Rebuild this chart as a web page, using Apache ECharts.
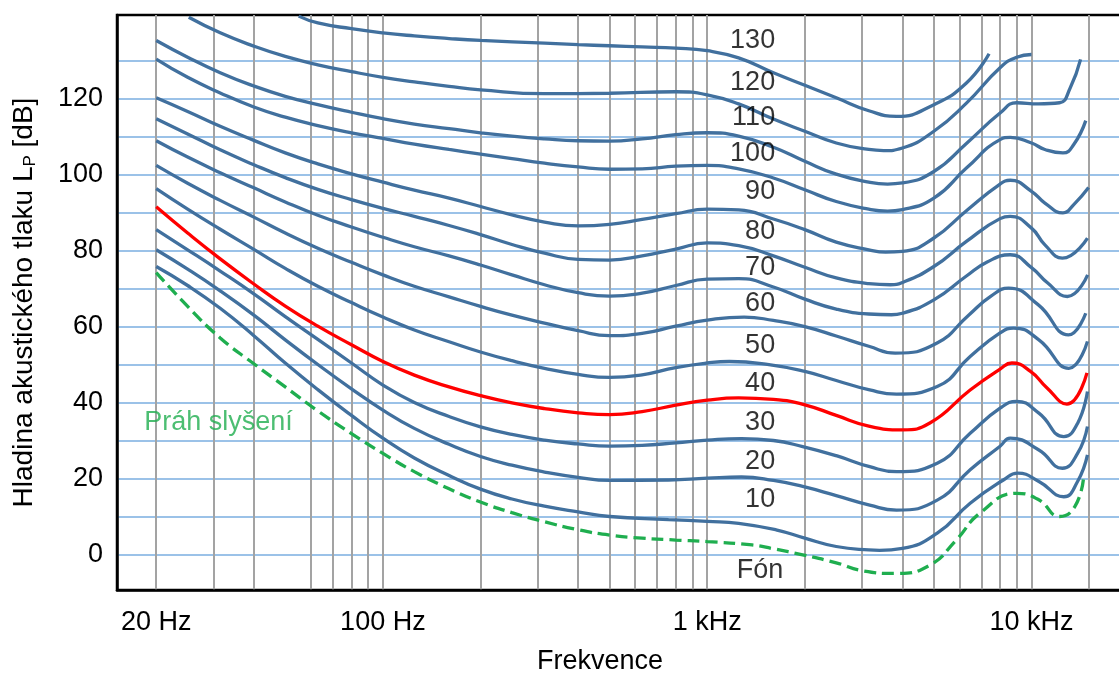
<!DOCTYPE html>
<html>
<head>
<meta charset="utf-8">
<script src="https://cdn.jsdelivr.net/npm/echarts@6/dist/echarts.min.js"></script>
<style>
  html, body { margin: 0; padding: 0; background: #fff; }
  #chart { width: 1119px; height: 673px; }
</style>
</head>
<body>
<div id="chart"></div>
<script>
// frequency axis is logarithmic: values are in Hz, plotted as log10(f)
const freqMin = 15.14;
const freqMax = 19150;
const gridFreqs = [20, 30, 40, 60, 70, 80, 90, 100, 200, 300, 400, 500, 600, 700, 800, 900,
  1000, 2000, 3000, 4000, 5000, 6000, 7000, 8000, 9000, 10000, 15000];
const tickFreqs = [20, 100, 1000, 10000];
const tickNames = ["20 Hz", "100 Hz", "1 kHz", "10 kHz"];
const dbLines = [0, 10, 20, 30, 40, 50, 60, 70, 80, 90, 100, 110, 120, 130];
const dbLabels = [0, 20, 40, 60, 80, 100, 120];

// equal loudness contours, [Hz, dB]
const phon130 = [[55, 141.7], [63, 139.9], [80, 138.4], [100, 137.3], [125, 136.5], [160, 135.8], [200, 135.3],
  [315, 134.6], [400, 134.2], [500, 133.9], [630, 133.6], [800, 133.3], [1000, 132.6], [1250, 130.7],
  [1600, 126.8], [2000, 123.5], [2500, 120.2], [3150, 116.8], [3830, 115.3], [5000, 118.4], [6300, 124.1], [7400, 131.8]];
const phon120 = [[25.2, 141.4], [31.5, 137.3], [40, 133.8], [50, 131.1], [63, 128.9], [80, 127.1], [100, 125.6],
  [125, 124.4], [160, 123.2], [200, 122.3], [315, 121.3], [500, 121.4], [800, 121.8],
  [1000, 121], [1250, 118.6], [1600, 114.6], [2000, 111.4], [2500, 108.3], [3150, 106.6], [3500, 106.3],
  [4000, 107], [5000, 111.4], [6300, 118.8], [8000, 128.1], [9000, 130.9], [10000, 131.6]];
const phon110 = [[20, 135.3], [25, 130.9], [31.5, 126.8], [40, 123.3], [50, 120.6], [63, 118.4], [80, 116.4],
  [100, 114.7], [125, 113.3], [160, 112.1], [200, 111], [250, 110.1], [315, 109.4], [400, 108.9], [500, 108.8],
  [630, 109.4], [800, 110.5], [1000, 111], [1250, 110.1], [1600, 107.2], [2000, 103.5], [2500, 100.1],
  [3150, 98], [3600, 97.5], [4000, 97.8], [5000, 100.8], [6300, 108.2], [8000, 116.2], [9000, 118.9],
  [10500, 118.6], [12200, 118.9], [13160, 122.8], [14170, 130.3]];
const phon100 = [[20, 130.4], [25, 125.6], [31.5, 121.5], [40, 117.8], [50, 115.1], [63, 112.9], [80, 111],
  [100, 109.5], [125, 108], [160, 106.6], [200, 105.4], [250, 104.2], [315, 103], [400, 102], [500, 101.4],
  [630, 101.5], [800, 102.2], [1000, 102.4], [1250, 101.5], [1600, 99.1], [2000, 96], [2500, 92.9],
  [3150, 90.9], [3600, 90.4], [4000, 90.8], [5000, 93.8], [6300, 101.7], [8000, 109.2], [8600, 109.8],
  [10000, 108.3], [11000, 106.6], [12500, 105.7], [13500, 107.9], [14700, 114.2]];
const phon90 = [[20, 120.2], [25, 116.6], [31.5, 112.7], [40, 109], [50, 105.7], [63, 102.8], [80, 100.2],
  [100, 98], [125, 95.9], [160, 93.8], [200, 91.6], [250, 89.4], [315, 87.5], [400, 86.5], [500, 86.9],
  [630, 88.2], [800, 89.7], [1000, 90.9], [1250, 90.7], [1600, 88.3], [2000, 85.5], [2500, 82.2],
  [3150, 80.2], [3550, 79.6], [4000, 79.8], [5000, 83.3], [6300, 90.5], [8000, 97.5], [8600, 98.5],
  [10000, 95.6], [11000, 92.5], [12500, 89.9], [13500, 92.1], [15000, 96.6]];
const phon80 = [[20, 114.7], [25, 110.7], [31.5, 106.5], [40, 102.6], [50, 99.2], [63, 96.1], [80, 93.4],
  [100, 91.1], [125, 89], [160, 86.6], [200, 84.2], [250, 81.6], [315, 79.3], [400, 77.7], [500, 77.5],
  [630, 78.6], [800, 80.4], [1000, 82], [1250, 81.3], [1600, 78.6], [2000, 75.6], [2500, 72.8],
  [3150, 71.3], [3670, 71], [4000, 71.6], [5000, 75.8], [6300, 82.4], [8000, 88.4], [8600, 89],
  [10000, 85.9], [11000, 81.5], [12450, 78], [14880, 83.3]];
const phon70 = [[20, 108.9], [25, 104.6], [31.5, 100.5], [40, 96.5], [50, 92.8], [63, 89.3], [80, 86.2],
  [100, 83.5], [125, 81], [160, 78.6], [200, 76.2], [250, 73.6], [315, 71], [400, 68.9], [500, 68],
  [630, 68.8], [800, 70.8], [1000, 72.5], [1250, 72.6], [1600, 70.4], [2000, 67.2], [2500, 64.6],
  [3150, 63.3], [3700, 63.1], [4000, 63.5], [5000, 67], [6300, 73.3], [7300, 77], [8600, 78.9],
  [10000, 75.5], [11200, 71.5], [12900, 67.9], [14900, 73.6]];
const phon60 = [[20, 102.4], [25, 97.7], [31.5, 93.2], [40, 88.8], [50, 84.6], [63, 80.6], [80, 76.9],
  [100, 73.6], [125, 70.6], [160, 67.8], [200, 65.3], [250, 63], [315, 60.9], [400, 58.9], [500, 57.6],
  [630, 58.2], [800, 60.1], [1000, 61.7], [1300, 62.5], [1600, 61.6], [2000, 60], [2500, 57.5],
  [3150, 54.8], [3800, 53], [5100, 55.6], [6400, 63], [7500, 68], [8500, 70.1], [10500, 65.7],
  [13000, 57.8], [14700, 63.5]];
const phon50 = [[20, 96.3], [25, 90.9], [31.5, 85.6], [40, 80.3], [50, 75.3], [63, 70.6], [80, 66.3],
  [100, 62.5], [125, 59.1], [160, 56], [200, 53.3], [250, 51], [315, 49], [400, 47.4], [500, 46.6],
  [630, 47.3], [800, 49.2], [1000, 50.4], [1170, 50.8], [1550, 50], [2000, 48.2], [2500, 45.8],
  [3170, 43.3], [3835, 42.2], [5120, 44.2], [6470, 52.1], [8000, 58.3], [8810, 59.6], [10540, 56.5],
  [13040, 49], [14880, 56.1]];
const phon40 = [[20, 91.5], [25, 84.6], [31.5, 77.8], [40, 71.2], [50, 65.4], [63, 60.1], [80, 55.2],
  [100, 50.8], [125, 47.2], [160, 44.1], [200, 41.8], [250, 39.9], [315, 38.4], [400, 37.3], [500, 36.8],
  [630, 37.6], [800, 39.3], [1000, 40.6], [1250, 41.2], [1600, 40.8], [2000, 39.4], [2500, 36.6],
  [3150, 33.8], [4000, 32.8], [4860, 34.6], [6470, 43.3], [8000, 48.8], [8700, 50.4], [9930, 48.2],
  [11150, 43.9], [12860, 39.6], [14830, 47.8]];
const phon30 = [[20, 85.5], [25, 80.2], [31.5, 74.6], [40, 68.6], [50, 62.6], [63, 56.6], [80, 50.4],
  [100, 44.6], [125, 40], [160, 36.3], [200, 33.6], [250, 31.6], [315, 30.1], [400, 29.1], [500, 28.5],
  [630, 28.7], [800, 29.4], [1000, 30.1], [1275, 30.5], [1600, 30], [1970, 28.4], [2500, 26],
  [3170, 23.1], [3835, 21.8], [5120, 24], [6470, 31.9], [8000, 38.5], [9000, 40.3], [10540, 37.2],
  [12580, 31], [13870, 34.5], [14880, 42.9]];
const phon20 = [[20, 80.2], [25, 75.1], [31.5, 69.4], [40, 63], [50, 56.5], [63, 50], [80, 43.6],
  [100, 38], [125, 33.2], [160, 29], [200, 25.8], [250, 23.5], [315, 21.7], [400, 20.3], [500, 19.5],
  [760, 19.6], [1000, 20.1], [1275, 20.4], [1600, 19.5], [1970, 17.9], [2500, 15.5], [3170, 13],
  [3835, 11.7], [5120, 14.3], [6470, 22.3], [8000, 28.5], [8600, 30.6], [10540, 27.5], [12450, 22.7],
  [13870, 26.6], [14880, 33.7]];
const phon10 = [[20, 75.8], [25, 70.8], [31.5, 64.8], [40, 57.6], [50, 50.4], [63, 43.4], [80, 36.6],
  [100, 30.6], [125, 25.4], [160, 20.8], [200, 17.2], [250, 14.6], [315, 12.7], [400, 11.2], [500, 10],
  [760, 9.2], [1000, 8.7], [1250, 8.2], [1630, 6.5], [2000, 4.3], [2500, 2.1], [3150, 1.2], [3400, 1.1],
  [4000, 1.6], [5120, 5.6], [6470, 13.5], [8190, 19.6], [9070, 21.4], [10540, 19.2], [12580, 15.2],
  [13870, 19.2], [14880, 26.2]];
const threshold = [[20, 74.2], [25, 65.3], [31.5, 57], [40, 50.2], [50, 44.1], [63, 37.8], [80, 31.8],
  [100, 26.6], [125, 21.8], [160, 17.3], [200, 13.8], [250, 11], [315, 8.6], [400, 6.5], [500, 5.1],
  [630, 4.3], [800, 3.8], [1000, 3.4], [1375, 2.5], [1600, 1.5], [1970, -0.1], [2500, -2.2], [3020, -4.3],
  [3830, -5], [4860, -2.8], [5860, 3.8], [6940, 10.9], [9010, 16.1], [10530, 14.4], [12200, 10],
  [13600, 12.6], [14470, 20.1]];

const blueCurves = [phon130, phon120, phon110, phon100, phon90, phon80, phon70, phon60, phon50, phon30, phon20, phon10];

// contour captions, right-aligned near 1.6 kHz
const captionText = ["130", "120", "110", "100", "90", "80", "70", "60", "50", "40", "30", "20", "10"];
const captionDb = [135.3, 124.3, 115.1, 105.5, 95.6, 85.0, 75.6, 66.0, 55.0, 44.9, 34.6, 24.4, 14.4];
const captionFreq = 1626;

const FONT = "'Liberation Sans', Arial, sans-serif";
const BLUE = "#41709e";
const GREEN = "#1fae4f";

const lg = f => Math.log10(f);
const toXY = curve => curve.map(([f, db]) => [lg(f), db]);

const chart = echarts.init(document.getElementById("chart"));

const series = blueCurves.map(curve => ({
  type: "line",
  data: toXY(curve),
  smooth: 0.5,
  symbol: "none",
  silent: true,
  lineStyle: { color: BLUE, width: 3.3 },
  z: 3,
}));

series.push({
  type: "line",
  data: toXY(phon40),
  smooth: 0.5,
  symbol: "none",
  silent: true,
  lineStyle: { color: "#ff0000", width: 3.3 },
  z: 4,
});

series.push({
  type: "line",
  data: toXY(threshold),
  smooth: 0.5,
  symbol: "none",
  silent: true,
  lineStyle: { color: GREEN, width: 3.3, type: [12, 6] },
  z: 4,
});

series.push({
  type: "scatter",
  silent: true,
  symbolSize: 1,
  itemStyle: { color: "rgba(0,0,0,0)" },
  data: captionDb.map((db, i) => ({ value: [lg(captionFreq), db], name: captionText[i] })),
  label: {
    show: true,
    position: "left",
    distance: 0,
    formatter: p => p.name,
    color: "#000",
    fontSize: 27,
    fontFamily: FONT,
  },
  z: 5,
});

series.push({
  type: "scatter",
  silent: true,
  symbolSize: 1,
  itemStyle: { color: "rgba(0,0,0,0)" },
  data: [
    { value: [lg(1456), -4.1], name: "Fón", label: { position: "inside", color: "#000" } },
    { value: [lg(18.3), 34.6], name: "Práh slyšení", label: { position: "right", color: GREEN } },
  ],
  label: {
    show: true,
    distance: 0,
    formatter: p => p.name,
    fontSize: 27,
    fontFamily: FONT,
  },
  z: 5,
});

chart.setOption({
  animation: false,
  grid: {
    left: 117, right: -4, top: 15, bottom: 83,
    outerBoundsMode: "none",
    show: true, borderColor: "#000", borderWidth: 2.5,
  },
  xAxis: {
    type: "value",
    min: lg(freqMin),
    max: lg(freqMax),
    axisLine: { show: true, onZero: false, lineStyle: { color: "#000", width: 2.5 } },
    axisTick: { show: false, customValues: gridFreqs.map(lg) },
    splitLine: { show: true, lineStyle: { color: "#a3a3a3", width: 2 } },
    axisLabel: {
      customValues: tickFreqs.map(lg),
      formatter: v => {
        const i = tickFreqs.findIndex(f => Math.abs(lg(f) - v) < 1e-6);
        return i >= 0 ? tickNames[i] : "";
      },
      color: "#000",
      fontSize: 27,
      fontFamily: FONT,
      margin: 19,
    },
  },
  yAxis: {
    type: "value",
    min: -9.35,
    max: 142,
    name: "Hladina akustického tlaku L{sub|P} [dB]",
    nameLocation: "middle",
    nameGap: 78,
    nameTextStyle: {
      color: "#000",
      fontSize: 28,
      fontFamily: FONT,
      rich: { sub: { fontSize: 17, fontFamily: FONT, color: "#000", verticalAlign: "bottom", padding: [12, 0, 0, 0] } },
    },
    axisLine: { show: true, lineStyle: { color: "#000", width: 2.5 } },
    axisTick: { show: false, customValues: dbLines },
    splitLine: { show: true, lineStyle: { color: "#7aaee0", width: 1.5 } },
    axisLabel: {
      customValues: dbLabels,
      color: "#000",
      fontSize: 27,
      fontFamily: FONT,
      margin: 14,
    },
  },
  graphic: [{
    type: "text",
    style: {
      text: "Frekvence",
      x: 600, y: 662,
      textAlign: "center",
      textVerticalAlign: "middle",
      fill: "#000",
      fontSize: 27,
      fontFamily: FONT,
    },
  }],
  series,
});
</script>
</body>
</html>
